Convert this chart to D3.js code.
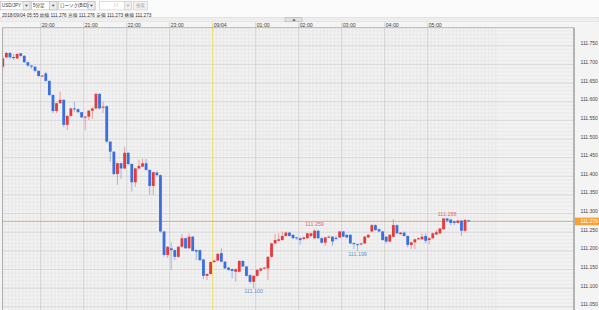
<!DOCTYPE html>
<html><head><meta charset="utf-8">
<script src="https://cdn.jsdelivr.net/npm/d3@7"></script>
<style>
html,body{margin:0;padding:0;background:#f8f8f8;overflow:hidden}
svg{display:block;font-family:"Liberation Sans","Noto Sans CJK JP",Arial,sans-serif}
</style></head><body>
<svg id="c" width="599" height="310"></svg>
<script>
// ---------- DATA ----------
const headerText = "2018/09/04 05:55 始値 111.276 高値 111.276 安値 111.273 終値 111.273";
const toolbarItems = ["USD/JPY", "5分足", "ローソク(BID)"];
const firstCandle = new Date(2018, 8, 3, 19, 5);   // 5-minute candles
const opens = [
111.694,111.719,111.731,111.720,111.716,111.730,111.723,111.706,111.697,111.694,
111.683,111.669,111.676,111.656,111.618,111.575,111.596,111.605,111.538,111.562,
111.582,111.580,111.572,111.558,111.560,111.576,111.582,111.621,111.584,111.588,
111.493,111.466,111.406,111.435,111.421,111.463,111.433,111.384,111.421,111.426,
111.435,111.417,111.374,111.410,111.403,111.252,111.189,111.207,111.202,111.184,
111.211,111.234,111.207,111.238,111.202,111.202,111.177,111.133,111.138,111.170,
111.174,111.194,111.171,111.155,111.151,111.144,111.144,111.173,111.158,111.135,
111.117,111.133,111.147,111.153,111.153,111.184,111.220,111.227,111.229,111.240,
111.249,111.243,111.236,111.234,111.232,111.234,111.240,111.234,111.254,111.234,
111.222,111.237,111.238,111.235,111.236,111.252,111.243,111.243,111.221,111.218,
111.218,111.220,111.236,111.252,111.269,111.258,111.252,111.238,111.225,111.238,
111.269,111.245,111.249,111.240,111.216,111.223,111.231,111.231,111.240,111.229,
111.234,111.244,111.247,111.258,111.287,111.284,111.279,111.275,111.281,111.254,
111.282];
const highs = [
111.723,111.734,111.733,111.728,111.731,111.731,111.725,111.707,111.698,111.695,
111.684,111.672,111.680,111.657,111.620,111.598,111.627,111.606,111.564,111.585,
111.600,111.582,111.573,111.562,111.578,111.584,111.624,111.623,111.600,111.590,
111.495,111.468,111.437,111.437,111.479,111.465,111.435,111.423,111.444,111.447,
111.447,111.419,111.413,111.415,111.405,111.254,111.213,111.223,111.204,111.213,
111.245,111.236,111.247,111.240,111.204,111.204,111.179,111.140,111.172,111.176,
111.194,111.207,111.173,111.157,111.153,111.153,111.175,111.175,111.160,111.137,
111.135,111.151,111.155,111.157,111.186,111.222,111.245,111.247,111.252,111.251,
111.251,111.245,111.238,111.236,111.238,111.249,111.249,111.259,111.256,111.236,
111.238,111.242,111.240,111.240,111.254,111.254,111.245,111.245,111.223,111.220,
111.222,111.240,111.245,111.272,111.271,111.260,111.254,111.240,111.245,111.285,
111.271,111.251,111.252,111.242,111.225,111.233,111.236,111.247,111.247,111.236,
111.249,111.256,111.262,111.287,111.288,111.286,111.281,111.283,111.283,111.285,
111.282];
const lows = [
111.687,111.717,111.715,111.712,111.715,111.720,111.704,111.693,111.688,111.680,
111.666,111.668,111.653,111.615,111.570,111.570,111.594,111.532,111.524,111.560,
111.573,111.570,111.556,111.524,111.551,111.554,111.580,111.580,111.570,111.490,
111.439,111.403,111.377,111.393,111.419,111.430,111.359,111.372,111.419,111.424,
111.415,111.350,111.350,111.400,111.249,111.184,111.181,111.149,111.175,111.181,
111.209,111.205,111.205,111.198,111.175,111.173,111.124,111.122,111.136,111.168,
111.172,111.169,111.151,111.147,111.126,111.117,111.142,111.156,111.131,111.113,
111.100,111.131,111.145,111.151,111.122,111.182,111.218,111.225,111.227,111.238,
111.238,111.232,111.230,111.216,111.228,111.232,111.236,111.232,111.232,111.220,
111.213,111.235,111.213,111.228,111.234,111.236,111.234,111.218,111.205,111.199,
111.214,111.218,111.234,111.250,111.254,111.250,111.227,111.220,111.223,111.236,
111.245,111.243,111.238,111.210,111.205,111.205,111.229,111.229,111.220,111.218,
111.232,111.242,111.245,111.256,111.276,111.269,111.269,111.273,111.240,111.250,
111.279];
const closes = [
111.716,111.731,111.719,111.717,111.728,111.723,111.706,111.697,111.694,111.683,
111.669,111.670,111.656,111.618,111.575,111.596,111.605,111.538,111.562,111.582,
111.580,111.572,111.558,111.560,111.576,111.582,111.621,111.582,111.587,111.493,
111.466,111.406,111.435,111.421,111.463,111.433,111.384,111.421,111.428,111.435,
111.417,111.374,111.411,111.403,111.252,111.189,111.211,111.202,111.184,111.211,
111.234,111.207,111.238,111.200,111.198,111.175,111.133,111.138,111.170,111.174,
111.192,111.171,111.153,111.149,111.146,111.151,111.173,111.158,111.133,111.117,
111.133,111.149,111.153,111.155,111.184,111.220,111.229,111.231,111.240,111.249,
111.240,111.234,111.234,111.229,111.236,111.247,111.247,111.254,111.234,111.222,
111.236,111.238,111.225,111.232,111.252,111.238,111.236,111.220,111.218,111.216,
111.220,111.238,111.243,111.269,111.256,111.252,111.229,111.225,111.243,111.269,
111.247,111.249,111.240,111.216,111.223,111.231,111.234,111.238,111.227,111.234,
111.247,111.250,111.260,111.287,111.281,111.275,111.275,111.281,111.254,111.283,
111.279];
const hourTicks = [
  new Date(2018,8,3,20), new Date(2018,8,3,21), new Date(2018,8,3,22), new Date(2018,8,3,23),
  new Date(2018,8,4,0), new Date(2018,8,4,1), new Date(2018,8,4,2), new Date(2018,8,4,3),
  new Date(2018,8,4,4), new Date(2018,8,4,5)];
const hourLabels = ["20:00","21:00","22:00","23:00","09/04","01:00","02:00","03:00","04:00","05:00"];
const priceTicks = [111.75,111.70,111.65,111.60,111.55,111.50,111.45,111.40,111.35,111.30,111.25,111.20,111.15,111.10,111.05];
const priceLabels = ["111.750","111.700","111.650","111.600","111.550","111.500","111.450","111.400","111.350","111.300","111.250","111.200","111.150","111.100","111.050"];
const currentPrice = 111.279;
const currentLabel = "111.279";
const markerIndex = [70, 87, 99, 124];
const markerType = ["low", "high", "low", "high"];
const markerLabels = ["111.100", "111.259", "111.199", "111.288"];

// ---------- LAYOUT ----------
const W = 599, H = 310;
const plot = {l: 2.5, r: 574, t: 27.7, b: 310};
const svg = d3.select("#c");
const FS = 4.5;

const times = opens.map((_, i) => d3.timeMinute.offset(firstCandle, 5 * i));
const x = d3.scaleTime()
  .domain([new Date(2018,8,3,20), new Date(2018,8,4,5)])
  .range([40.7, 427.7]);
const y = d3.scaleLinear().domain([111.05, 111.75]).range([306.8, 45.8]);
const candleShift = 1.5, bodyW = 2.8;
const RED = "#e53b3b", BLUE = "#3b6fe0";

// toolbar
const tb = svg.append("g");
tb.append("rect").attr("width", W).attr("height", 24).attr("fill", "#fbfbfb");
const boxes = [[0.5, 30, 23], [31.5, 57, 49.5], [58.5, 95, 88]];
boxes.forEach((b, i) => {
  tb.append("rect").attr("x", b[0]).attr("y", 1.3).attr("width", b[1]-b[0]).attr("height", 8.6)
    .attr("fill", "#fff").attr("stroke", "#b8b8b8").attr("stroke-width", 0.6);
  tb.append("rect").attr("x", b[2]).attr("y", 1.3).attr("width", b[1]-b[2]).attr("height", 8.6)
    .attr("fill", "#ececec").attr("stroke", "#b8b8b8").attr("stroke-width", 0.6);
  tb.append("path").attr("d", `M${(b[2]+b[1])/2-1.6},4.7 L${(b[2]+b[1])/2+1.6},4.7 L${(b[2]+b[1])/2},6.8 Z`).attr("fill", "#555");
  tb.append("text").attr("x", b[0]+1.4).attr("y", 5.7).attr("dominant-baseline", "central")
    .attr("font-size", FS).attr("fill", "#333").text(toolbarItems[i]);
});
tb.append("rect").attr("x", 99.5).attr("y", 1.3).attr("width", 32).attr("height", 8.6)
  .attr("fill", "#fff").attr("stroke", "#c8c8c8").attr("stroke-width", 0.6);
tb.append("text").attr("x", 116).attr("y", 5.7).attr("dominant-baseline", "central").attr("text-anchor", "middle")
  .attr("font-size", FS).attr("fill", "#999").text("/    /");
tb.append("rect").attr("x", 124.5).attr("y", 1.3).attr("width", 7).attr("height", 8.6)
  .attr("fill", "#f0f0f0").attr("stroke", "#c8c8c8").attr("stroke-width", 0.6);
tb.append("path").attr("d", "M126.4,4.7 L129.6,4.7 L128,6.8 Z").attr("fill", "#aaa");
tb.append("rect").attr("x", 133.5).attr("y", 1.3).attr("width", 14).attr("height", 8.6)
  .attr("fill", "#f2f2f2").attr("stroke", "#c8c8c8").attr("stroke-width", 0.6);
tb.append("text").attr("x", 140.5).attr("y", 5.7).attr("dominant-baseline", "central").attr("text-anchor", "middle")
  .attr("font-size", FS).attr("fill", "#aaa").text("検索");
tb.append("text").attr("x", 2).attr("y", 15).attr("dominant-baseline", "central")
  .attr("font-size", 4.7).attr("fill", "#333").text(headerText);
// scrollbar
tb.append("rect").attr("x", 0).attr("y", 17.6).attr("width", W).attr("height", 4.4)
  .attr("fill", "#eeeeee").attr("stroke", "#d2d2d2").attr("stroke-width", 0.5);
tb.append("rect").attr("x", 285).attr("y", 17.8).attr("width", 17).attr("height", 4)
  .attr("fill", "#e2e2e2").attr("stroke", "#a8a8a8").attr("stroke-width", 0.5);
tb.append("path").attr("d", "M292.2,20.8 L295.8,20.8 L294,18.8 Z").attr("fill", "#555");

// axis area background
svg.append("rect").attr("x", 0).attr("y", 22.3).attr("width", W).attr("height", H-22.3).attr("fill", "#f4f4f4");
svg.append("rect").attr("x", plot.l).attr("y", plot.t).attr("width", plot.r-plot.l).attr("height", plot.b-plot.t).attr("fill", "#f2f2f2");

const defs = svg.append("defs");
defs.append("clipPath").attr("id", "pc").append("rect")
  .attr("x", plot.l).attr("y", plot.t).attr("width", plot.r-plot.l).attr("height", plot.b-plot.t);
const g = svg.append("g").attr("clip-path", "url(#pc)");

// minor grid
const minorT = d3.timeMinute.every(5).range(new Date(2018,8,3,18,55), new Date(2018,8,4,6,40));
g.selectAll("line.mv").data(minorT).join("line")
  .attr("x1", d => x(d)).attr("x2", d => x(d)).attr("y1", plot.t).attr("y2", plot.b)
  .attr("stroke", "#e4e4e4").attr("stroke-width", 0.6);
const minorP = d3.range(0, 81).map(k => 111.0 + k * 0.01);
g.selectAll("line.mh").data(minorP).join("line")
  .attr("x1", plot.l).attr("x2", plot.r).attr("y1", d => y(d)).attr("y2", d => y(d))
  .attr("stroke", "#e4e4e4").attr("stroke-width", 0.6);
// major grid
g.selectAll("line.Mh").data(priceTicks).join("line")
  .attr("x1", plot.l).attr("x2", plot.r).attr("y1", d => y(d)).attr("y2", d => y(d))
  .attr("stroke", "#d5d5d5").attr("stroke-width", 0.8);
svg.selectAll("line.Mv").data(hourTicks).join("line")
  .attr("x1", d => x(d)).attr("x2", d => x(d)).attr("y1", 22.3).attr("y2", plot.b)
  .attr("stroke", (d, i) => hourLabels[i] === "09/04" ? "#f0dc6e" : "#cdcdcd")
  .attr("stroke-width", (d, i) => hourLabels[i] === "09/04" ? 1 : 0.8);

// current price line
svg.append("line").attr("x1", plot.l).attr("x2", plot.r).attr("y1", y(currentPrice)).attr("y2", y(currentPrice))
  .attr("stroke", "#f4a640").attr("stroke-width", 0.9);

// candles
const cg = svg.append("g").attr("clip-path", "url(#pc)");
const idx = d3.range(opens.length);
const cx = i => x(times[i]) + candleShift;
cg.selectAll("line.wick").data(idx).join("line")
  .attr("x1", cx).attr("x2", cx)
  .attr("y1", i => y(highs[i])).attr("y2", i => y(lows[i]))
  .attr("stroke", i => closes[i] >= opens[i] ? RED : BLUE)
  .attr("stroke-opacity", 0.5).attr("stroke-width", 0.9);
cg.selectAll("rect.body").data(idx).join("rect")
  .attr("x", i => cx(i) - bodyW/2).attr("width", bodyW)
  .attr("y", i => y(Math.max(opens[i], closes[i])))
  .attr("height", i => Math.max(1, Math.abs(y(opens[i]) - y(closes[i]))))
  .attr("fill", i => closes[i] >= opens[i] ? RED : BLUE);

// hi/lo markers
markerIndex.forEach((mi, k) => {
  const hi = markerType[k] === "high";
  svg.append("text").attr("x", cx(mi)).attr("y", hi ? y(highs[mi]) - 4.4 : y(lows[mi]) + 3)
    .attr("text-anchor", "middle").attr("dominant-baseline", "central")
    .attr("font-size", 5.4).attr("fill", hi ? "#e46a6a" : "#5b95da").text(markerLabels[k]);
});

// frame
svg.append("line").attr("x1", plot.l).attr("x2", plot.l).attr("y1", plot.t).attr("y2", H).attr("stroke", "#9a9a9a").attr("stroke-width", 0.8);
svg.append("line").attr("x1", plot.l).attr("x2", plot.r).attr("y1", plot.t).attr("y2", plot.t).attr("stroke", "#a8a8a8").attr("stroke-width", 0.8);
svg.append("line").attr("x1", plot.r).attr("x2", plot.r).attr("y1", plot.t).attr("y2", H).attr("stroke", "#999").attr("stroke-width", 1.4);

// time labels
svg.selectAll("text.tl").data(hourTicks).join("text")
  .attr("x", d => x(d) + 1).attr("y", 25.1).attr("dominant-baseline", "central")
  .attr("font-size", 5.2).attr("fill", "#444").text((d, i) => hourLabels[i]);

// price labels
svg.selectAll("text.pl").data(priceTicks).join("text")
  .attr("x", 580.5).attr("y", d => y(d) - 2.5).attr("dominant-baseline", "central")
  .attr("font-size", 5).attr("fill", "#444").text((d, i) => priceLabels[i]);

// current price box
svg.append("rect").attr("x", 575).attr("y", y(currentPrice) - 3.8).attr("width", 24).attr("height", 7.6)
  .attr("fill", "#f4a23a");
svg.append("text").attr("x", 580.5).attr("y", y(currentPrice)).attr("dominant-baseline", "central")
  .attr("font-size", 5).attr("fill", "#fff").text(currentLabel);
</script>
</body></html>
